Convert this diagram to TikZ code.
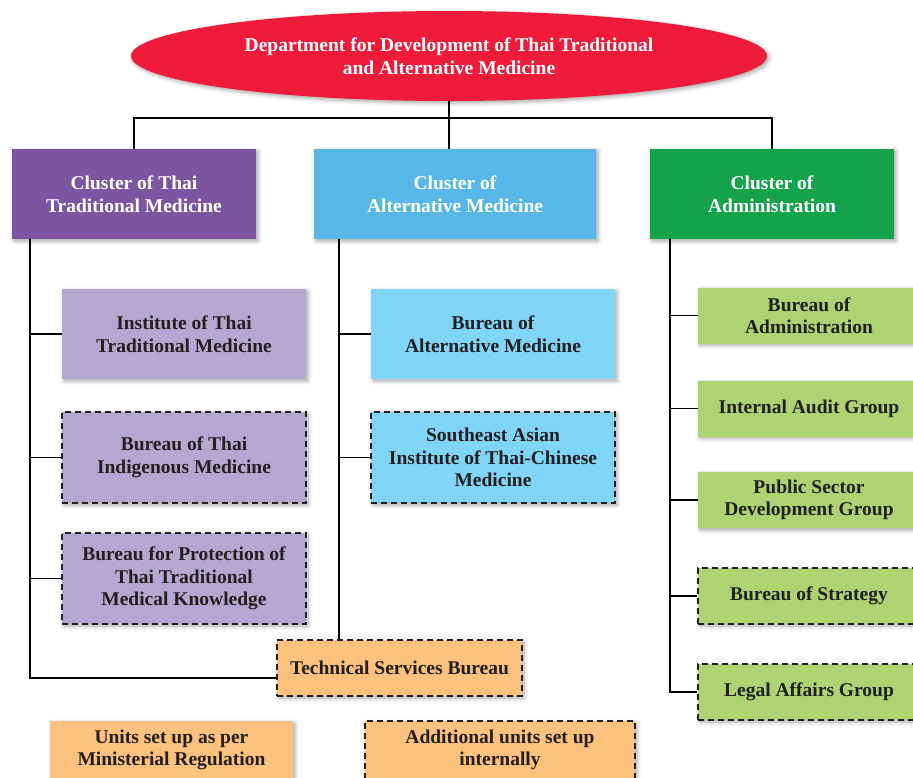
\documentclass[tikz,border=0pt]{standalone}
\usepackage{fontspec}
\setmainfont{Liberation Serif}
\usetikzlibrary{shapes.geometric,shadows.blur}
\definecolor{deptred}{HTML}{EE1C3A}
\definecolor{cpurple}{HTML}{7B55A0}
\definecolor{cblue}{HTML}{57B7E7}
\definecolor{cgreen}{HTML}{14A24B}
\definecolor{lpurple}{HTML}{B5A8D0}
\definecolor{lblue}{HTML}{80D4F6}
\definecolor{lgreen}{HTML}{ADD373}
\definecolor{lorange}{HTML}{FCC17C}
\definecolor{ink}{HTML}{231F20}
\tikzset{
  shade/.style={blur shadow={shadow xshift=2pt,shadow yshift=-2pt,shadow blur radius=4pt,shadow opacity=35}},
  box/.style={rectangle, shade, inner sep=0pt, align=center, text=ink,
    font=\fontsize{19.5}{22.5}\selectfont\bfseries},
  cluster/.style={box, text=white, minimum width=244pt, minimum height=90pt},
  sub/.style={box, minimum width=244pt, minimum height=90pt},
  gbox/.style={box, fill=lgreen, minimum width=222pt, minimum height=56pt},
  dashbox/.style={draw=ink, line width=1.5pt, dash pattern=on 6pt off 4pt},
  conn/.style={draw=black, line width=1.8pt},
}
\begin{document}
\begin{tikzpicture}[x=1pt,y=-1pt]
\useasboundingbox (0,0) rectangle (913,777);
% top
\node[ellipse, fill=deptred, shade, minimum width=636pt, minimum height=90pt, inner sep=0pt,
  align=center, text=white, font=\fontsize{19.5}{22.5}\selectfont\bfseries] (dept) at (449,56)
  {Department for Development of Thai Traditional\\and Alternative Medicine};
% clusters
\node[cluster, fill=cpurple] (pc) at (134,194) {Cluster of Thai\\Traditional Medicine};
\node[cluster, fill=cblue, minimum width=282pt] (bc) at (455,194) {Cluster of\\Alternative Medicine};
\node[cluster, fill=cgreen] (gc) at (772,194) {Cluster of\\Administration};
% purple subs
\node[sub, fill=lpurple] (p1) at (184,334) {Institute of Thai\\Traditional Medicine};
\node[sub, fill=lpurple, dashbox, minimum height=91pt] (p2) at (184,457.5) {Bureau of Thai\\Indigenous Medicine};
\node[sub, fill=lpurple, dashbox, minimum height=91pt] (p3) at (184,578.5) {Bureau for Protection of\\Thai Traditional\\Medical Knowledge};
% blue subs
\node[sub, fill=lblue] (b1) at (493,334) {Bureau of\\Alternative Medicine};
\node[sub, fill=lblue, dashbox, minimum height=91pt] (b2) at (493,457.5) {Southeast Asian\\Institute of Thai-Chinese\\Medicine};
% technical
\node[box, fill=lorange, dashbox, minimum width=245pt, minimum height=56pt] (tsb) at (399.5,668) {Technical Services Bureau};
% green subs
\node[gbox] (g1) at (809,315.5) {Bureau of\\Administration};
\node[gbox] (g2) at (809,408.5) {Internal Audit Group};
\node[gbox] (g3) at (809,500) {Public Sector\\Development Group};
\node[gbox, dashbox] (g4) at (809,596) {Bureau of Strategy};
\node[gbox, dashbox] (g5) at (809,692) {Legal Affairs Group};
% legend
\node[box, fill=lorange, minimum width=243pt, minimum height=58pt] (leg1) at (171.5,750) {Units set up as per\\Ministerial Regulation};
\node[box, fill=lorange, dashbox, minimum width=270pt, minimum height=58pt] (leg2) at (500,750) {Additional units set up\\internally};
% connectors
\coordinate (bus) at (449,118);
\coordinate (pv) at (30,239);
\coordinate (bv) at (339,239);
\coordinate (gv) at (670,239);
\draw[conn] (dept.south) -- (dept.south |- bc.north);
\draw[conn] (pc.north) |- (bus) -| (gc.north);
\draw[conn] (pv) |- ([yshift=-10pt]tsb.west);
\foreach \n in {p1,p2,p3} \draw[conn] (pv |- \n.west) -- (\n.west);
\draw[conn] (bv) -- (bv |- tsb.north);
\foreach \n in {b1,b2} \draw[conn] (bv |- \n.west) -- (\n.west);
\draw[conn] (gv) |- (g5.west);
\foreach \n in {g1,g2,g3,g4} \draw[conn] (gv |- \n.west) -- (\n.west);
\end{tikzpicture}
\end{document}
